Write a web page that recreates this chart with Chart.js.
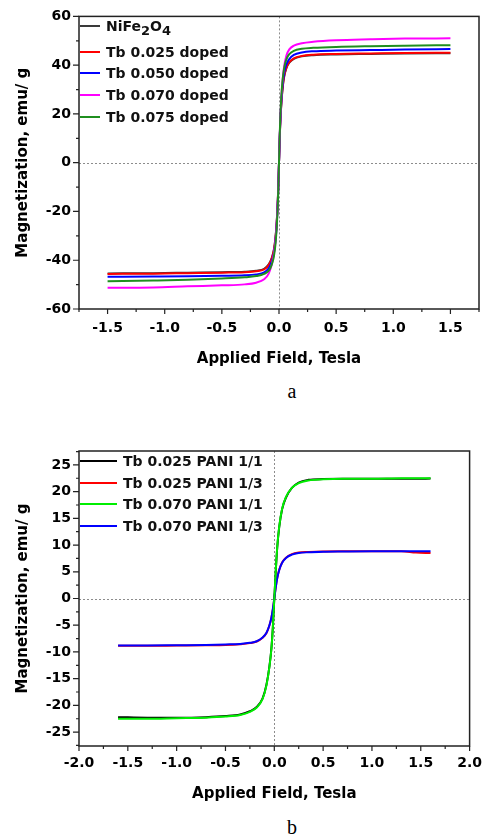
<!DOCTYPE html>
<html><head><meta charset="utf-8">
<script src="https://cdn.jsdelivr.net/npm/chart.js@4.4.1/dist/chart.umd.min.js"></script>
<style>
html,body{margin:0;padding:0;background:#fff;}
body{width:491px;height:835px;position:relative;overflow:hidden;font-family:"DejaVu Sans",sans-serif;}
canvas{position:absolute;left:0;}
#ca{top:0}
#cb{top:430px}
.leg{position:absolute;font:bold 14px "DejaVu Sans",sans-serif;color:#111;line-height:16px;white-space:nowrap;}
.leg .s{font-size:13px;position:relative;top:4px;}
.sw{position:absolute;height:2px;}
.cap{position:absolute;font:20px "Liberation Serif",serif;line-height:20px;color:#000;transform:translateX(-50%);}
</style></head>
<body>
<canvas id="ca" width="491" height="375"></canvas>
<canvas id="cb" width="491" height="380"></canvas>
<div class="cap" style="left:292px;top:381px">a</div>
<div class="cap" style="left:292px;top:817px">b</div>
<div id="legA"></div>
<div id="legB"></div>
<script>
// ---------- Chart a data ----------
const aField = [-1.5,-1.1,-0.8,-0.5,-0.3,-0.2,-0.13,-0.09,-0.065,-0.045,-0.03,-0.02,-0.01,-0.005,0,0.005,0.01,0.02,0.03,0.045,0.065,0.09,0.13,0.2,0.3,0.5,0.8,1.1,1.5];
const aNiFe2O4 = [-45.4,-45.3,-45.1,-44.9,-44.7,-44.3,-43.5,-41.7,-39.2,-35.7,-30.2,-24.2,-14.8,-7.9,0,7.9,14.8,23.8,29.8,35.2,38.8,41.0,42.6,43.6,44.1,44.4,44.6,44.8,44.9];
const aTb025 = [-45.6,-45.5,-45.3,-45.1,-44.9,-44.5,-43.8,-42.0,-39.5,-36.0,-30.5,-24.5,-15.0,-8.0,0,8.0,15.0,24.0,30.0,35.5,39.0,41.2,42.8,43.8,44.3,44.6,44.8,45.0,45.1];
const aTb050 = [-46.8,-46.7,-46.6,-46.4,-46.2,-45.8,-45.0,-43.3,-40.8,-37.2,-31.5,-25.3,-15.5,-8.3,0,8.3,15.5,24.8,31.0,36.7,40.3,42.5,44.2,45.2,45.7,46.0,46.2,46.4,46.6];
const aTb070 = [-51.3,-51.2,-50.7,-50.3,-49.9,-49.2,-47.8,-45.5,-42.0,-37.5,-31.5,-25.0,-15.5,-8.3,0,8.5,16.0,26.0,33.0,39.5,44.0,46.5,48.0,49.0,49.6,50.2,50.6,50.9,51.0];
const aTb075 = [-48.6,-48.3,-48.0,-47.5,-47.0,-46.5,-45.6,-44.3,-42.0,-38.5,-33.0,-26.5,-16.5,-8.8,0,9.0,16.8,26.8,33.2,38.8,42.4,44.5,45.9,46.7,47.1,47.5,47.8,48.0,48.2];
const aXTicks = [-1.5,-1.0,-0.5,0,0.5,1.0,1.5];
const aYTicks = [-60,-40,-20,0,20,40,60];

// ---------- Chart b data ----------
const bField = [-1.6,-1.3,-1.0,-0.7,-0.5,-0.35,-0.25,-0.18,-0.12,-0.08,-0.05,-0.03,-0.015,0,0.015,0.03,0.05,0.08,0.12,0.18,0.25,0.35,0.5,0.7,1.0,1.3,1.45,1.6];
const bTb025P11 = [-22.2,-22.3,-22.3,-22.2,-22.0,-21.7,-21.1,-20.3,-18.7,-16.1,-12.7,-9.4,-5.4,0,5.1,9.5,13.3,16.7,18.9,20.7,21.7,22.2,22.35,22.4,22.4,22.4,22.4,22.45];
const bTb025P13 = [-8.85,-8.85,-8.8,-8.75,-8.7,-8.55,-8.35,-8.05,-7.35,-6.45,-5.05,-3.65,-2.05,0,2.1,3.85,5.35,6.75,7.65,8.3,8.6,8.7,8.8,8.85,8.85,8.85,8.6,8.5];
const bTb070P11 = [-22.5,-22.5,-22.4,-22.3,-22.1,-21.8,-21.2,-20.4,-18.8,-16.2,-12.8,-9.5,-5.5,0,5.2,9.6,13.4,16.8,19.0,20.7,21.6,22.1,22.3,22.4,22.4,22.5,22.5,22.5];
const bTb070P13 = [-8.8,-8.8,-8.75,-8.7,-8.6,-8.5,-8.3,-8.0,-7.3,-6.4,-5.0,-3.6,-2.0,0,2.1,3.8,5.3,6.7,7.6,8.2,8.5,8.65,8.75,8.8,8.85,8.85,8.85,8.85];
const bXTicks = [-2.0,-1.5,-1.0,-0.5,0,0.5,1.0,1.5,2.0];
const bYTicks = [-25,-20,-15,-10,-5,0,5,10,15,20,25];

const pts = (xs, ys) => xs.map((v,i)=>({x:v,y:ys[i]}));

const framePlugin = {
  id:'frame',
  beforeDatasetsDraw(chart, args, o){
    const {ctx, chartArea:a, scales:{x,y}} = chart;
    ctx.save();
    ctx.strokeStyle='#8c8c8c'; ctx.lineWidth=1; ctx.setLineDash([2,2]);
    const x0 = Math.round(x.getPixelForValue(0))+0.5;
    const y0 = Math.round(y.getPixelForValue(0))+0.5;
    ctx.beginPath();
    ctx.moveTo(x0,a.top); ctx.lineTo(x0,a.bottom);
    ctx.moveTo(a.left,y0); ctx.lineTo(a.right,y0);
    ctx.stroke();
    ctx.restore();
  },
  afterDraw(chart, args, o){
    const {ctx, chartArea:a, scales:{x,y}} = chart;
    ctx.save();
    ctx.strokeStyle='#222'; ctx.lineWidth=1.5;
    ctx.strokeRect(a.left,a.top,a.right-a.left,a.bottom-a.top);
    ctx.lineWidth=1.2;
    ctx.beginPath();
    const eps=1e-6;
    for (let v=Math.ceil(x.min/o.xMinor-eps)*o.xMinor; v<=x.max+eps; v+=o.xMinor){
      const px=x.getPixelForValue(v);
      const major=Math.abs(v/o.xMajor-Math.round(v/o.xMajor))<1e-4;
      ctx.moveTo(px,a.bottom); ctx.lineTo(px,a.bottom+(major?5:3));
    }
    for (let v=Math.ceil(y.min/o.yMinor-eps)*o.yMinor; v<=y.max+eps; v+=o.yMinor){
      const py=y.getPixelForValue(v);
      const major=Math.abs(v/o.yMajor-Math.round(v/o.yMajor))<1e-4;
      ctx.moveTo(a.left,py); ctx.lineTo(a.left-(major?6:3),py);
    }
    ctx.stroke();
    ctx.restore();
  }
};

const tickFont = {family:'"DejaVu Sans", sans-serif', weight:'bold', size:14};
const titleFont = {family:'"DejaVu Sans", sans-serif', weight:'bold', size:15, lineHeight:1.2};

function makeChart(id, cfg){
  return new Chart(document.getElementById(id), {
    type:'line',
    data:{datasets:cfg.datasets.map(d=>({
      label:d.label, data:d.data, borderColor:d.color, borderWidth:2,
      pointRadius:0, fill:false, cubicInterpolationMode:'monotone', order:d.order
    }))},
    options:{
      responsive:false, animation:false, events:[],
      layout:{padding:cfg.padding},
      plugins:{legend:{display:false}, tooltip:{enabled:false}, frame:cfg.frame},
      scales:{
        x:{type:'linear', min:cfg.xMin, max:cfg.xMax,
           afterBuildTicks:s=>{s.ticks=cfg.xTicks.map(v=>({value:v}));},
           afterFit:s=>{s.height=cfg.xHeight;},
           grid:{display:false, drawTicks:false}, border:{display:false},
           ticks:{font:tickFont, color:'#000', padding:cfg.xPad, maxRotation:0, autoSkip:false,
                  callback:v=>Number(v).toFixed(1)},
           title:{display:true, text:'Applied Field, Tesla', font:titleFont, color:'#000', padding:{top:0,bottom:cfg.xTitlePad}}},
        y:{type:'linear', min:cfg.yMin, max:cfg.yMax,
           afterBuildTicks:s=>{s.ticks=cfg.yTicks.map(v=>({value:v}));},
           afterFit:s=>{s.width=79;},
           grid:{display:false, drawTicks:false}, border:{display:false},
           ticks:{font:tickFont, color:'#000', padding:8, autoSkip:false, callback:v=>String(v)},
           title:{display:true, text:'Magnetization, emu/ g', font:titleFont, color:'#000', padding:{top:14,bottom:0}}}
      }
    },
    plugins:[framePlugin]
  });
}

const aSeries = [
  {label:'NiFe2O4', html:'NiFe<span class="s">2</span>O<span class="s">4</span>', data:pts(aField,aNiFe2O4), color:'#3a3a3a', order:4},
  {label:'Tb 0.025 doped', data:pts(aField,aTb025), color:'#ff0000', order:3},
  {label:'Tb 0.050 doped', data:pts(aField,aTb050), color:'#0000ff', order:2},
  {label:'Tb 0.070 doped', data:pts(aField,aTb070), color:'#ff00ff', order:1},
  {label:'Tb 0.075 doped', data:pts(aField,aTb075), color:'#1f8f1f', order:0}
];
const bSeries = [
  {label:'Tb 0.025 PANI 1/1', data:pts(bField,bTb025P11), color:'#000000', order:2},
  {label:'Tb 0.025 PANI 1/3', data:pts(bField,bTb025P13), color:'#ff0000', order:3},
  {label:'Tb 0.070 PANI 1/1', data:pts(bField,bTb070P11), color:'#00ee00', order:0},
  {label:'Tb 0.070 PANI 1/3', data:pts(bField,bTb070P13), color:'#0000ff', order:1}
];

makeChart('ca', {datasets:aSeries, padding:{left:0,top:15,right:12,bottom:0},
  xMin:-1.75, xMax:1.75, yMin:-60, yMax:60, xTicks:aXTicks, yTicks:aYTicks,
  xHeight:66, xPad:11, xTitlePad:7,
  frame:{xMinor:0.25, xMajor:0.5, yMinor:10, yMajor:20}});
makeChart('cb', {datasets:bSeries, padding:{left:0,top:21,right:11,bottom:0},
  xMin:-2, xMax:2, yMin:-27.6, yMax:27.6, xTicks:bXTicks, yTicks:bYTicks,
  xHeight:64, xPad:9, xTitlePad:7,
  frame:{xMinor:0.25, xMajor:0.5, yMinor:2.5, yMajor:5}});

function legend(el, series, rows, x0, x1, tx){
  const host=document.getElementById(el);
  series.forEach((s,i)=>{
    const sw=document.createElement('div'); sw.className='sw';
    sw.style.left=x0+'px'; sw.style.width=(x1-x0)+'px'; sw.style.top=(rows[i]-1)+'px'; sw.style.background=s.color;
    host.appendChild(sw);
    const t=document.createElement('div'); t.className='leg';
    t.style.left=tx+'px'; t.style.top=(rows[i]-8)+'px';
    if (s.html) t.innerHTML=s.html; else t.textContent=s.label;
    host.appendChild(t);
  });
}
legend('legA', aSeries, [25.5,51.7,73.3,95,116.7], 80, 100, 106);
legend('legB', bSeries, [460.7,482.7,504.3,526], 80, 117, 123);
</script>
</body></html>
